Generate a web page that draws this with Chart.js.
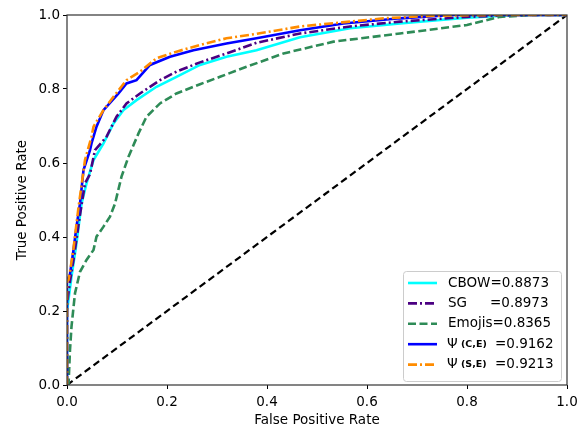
<!DOCTYPE html>
<html><head><meta charset="utf-8">
<script src="https://cdn.jsdelivr.net/npm/chart.js@4/dist/chart.umd.min.js"></script>
<style>html,body{margin:0;padding:0;background:#fff}</style>
</head><body>
<canvas id="c" width="587" height="429"></canvas>
<script>
// ---- data ----
const xTicks = [0, 0.2, 0.4, 0.6, 0.8, 1.0];
const yTicks = [0, 0.2, 0.4, 0.6, 0.8, 1.0];
const seriesNames = ['CBOW', 'SG', 'Emojis', 'Ψ', 'Ψ'];
const seriesSubs = ['', '', '', '(C,E)', '(S,E)'];
const seriesAUC = ['0.8873', '0.8973', '0.8365', '0.9162', '0.9213'];

const cbowFpr = [0, 0, 0.009, 0.019, 0.029, 0.039, 0.053, 0.073, 0.093, 0.113, 0.139, 0.179, 0.219, 0.266, 0.319, 0.379, 0.466, 0.566, 0.666, 0.8, 0.9, 1];
const cbowTpr = [0, 0.2, 0.293, 0.383, 0.49, 0.545, 0.608, 0.653, 0.707, 0.743, 0.77, 0.806, 0.833, 0.865, 0.887, 0.905, 0.94, 0.964, 0.977, 0.993, 1, 1];

const sgFpr = [0, 0, 0.006, 0.013, 0.026, 0.036, 0.046, 0.056, 0.079, 0.099, 0.119, 0.146, 0.186, 0.219, 0.266, 0.319, 0.379, 0.466, 0.566, 0.666, 0.8, 0.9, 1];
const sgTpr = [0, 0.22, 0.28, 0.338, 0.46, 0.545, 0.57, 0.635, 0.671, 0.725, 0.761, 0.788, 0.824, 0.847, 0.872, 0.896, 0.925, 0.95, 0.969, 0.982, 0.995, 1, 1];

const emoFpr = [0, 0.003, 0.006, 0.009, 0.016, 0.026, 0.039, 0.053, 0.059, 0.073, 0.086, 0.096, 0.109, 0.123, 0.143, 0.159, 0.186, 0.219, 0.266, 0.306, 0.359, 0.433, 0.533, 0.666, 0.8, 0.866, 0.93, 1];
const emoTpr = [0, 0, 0.095, 0.158, 0.248, 0.306, 0.338, 0.365, 0.401, 0.428, 0.455, 0.49, 0.563, 0.617, 0.68, 0.725, 0.761, 0.788, 0.813, 0.833, 0.86, 0.896, 0.928, 0.95, 0.973, 0.995, 1, 1];

const ceFpr = [0, 0, 0.006, 0.013, 0.019, 0.026, 0.033, 0.046, 0.049, 0.059, 0.073, 0.103, 0.119, 0.139, 0.166, 0.206, 0.253, 0.319, 0.379, 0.466, 0.553, 0.666, 0.77, 1];
const ceTpr = [0, 0.28, 0.30, 0.365, 0.428, 0.49, 0.581, 0.635, 0.653, 0.698, 0.743, 0.788, 0.815, 0.824, 0.865, 0.887, 0.905, 0.923, 0.937, 0.959, 0.977, 0.991, 1, 1];

const seFpr = [0, 0, 0.003, 0.006, 0.013, 0.023, 0.036, 0.049, 0.053, 0.073, 0.093, 0.119, 0.146, 0.179, 0.219, 0.266, 0.319, 0.379, 0.466, 0.55, 0.633, 0.733, 0.85, 1];
const seTpr = [0, 0.28, 0.284, 0.306, 0.369, 0.48, 0.608, 0.671, 0.698, 0.743, 0.779, 0.824, 0.847, 0.883, 0.901, 0.919, 0.937, 0.949, 0.969, 0.98, 0.991, 0.998, 1, 1];

const chanceFpr = [0, 1];
const chanceTpr = [0, 1];

// ---- styles ----
const FONT = 'DejaVu Sans';
const pts = (xs, ys) => xs.map((x, i) => ({x: x, y: ys[i]}));
const styles = [
  {color: '#00ffff', dash: [], order: 4},
  {color: '#4b0082', dash: [9, 3, 2, 3], order: 3},
  {color: '#2e8b57', dash: [8, 3.5], order: 2},
  {color: '#0000ff', dash: [], order: 1},
  {color: '#ff8c00', dash: [9, 3, 2, 3], order: 0}
];
const curves = [[cbowFpr, cbowTpr], [sgFpr, sgTpr], [emoFpr, emoTpr], [ceFpr, ceTpr], [seFpr, seTpr]];

const datasets = curves.map((c, i) => ({
  label: seriesNames[i] + seriesSubs[i],
  data: pts(c[0], c[1]),
  showLine: true,
  borderColor: styles[i].color,
  backgroundColor: styles[i].color,
  borderWidth: 2.6,
  borderDash: styles[i].dash,
  pointRadius: 0,
  tension: 0,
  order: styles[i].order
}));
datasets.push({
  label: 'chance',
  data: pts(chanceFpr, chanceTpr),
  showLine: true,
  borderColor: '#000',
  borderWidth: 2.2,
  borderDash: [7, 4],
  pointRadius: 0,
  order: 5
});

const boxPlugin = {
  id: 'boxAndLegend',
  afterDraw(chart) {
    const ctx = chart.ctx, a = chart.chartArea;
    ctx.save();
    ctx.strokeStyle = '#333';
    ctx.lineWidth = 1.2;
    ctx.strokeRect(a.left, a.top, a.right - a.left, a.bottom - a.top);

    // legend
    const w = 158, h = 110;
    const lx = a.right - 6 - w, ly = a.bottom - 4 - h;
    ctx.fillStyle = 'rgba(255,255,255,0.85)';
    ctx.strokeStyle = '#cccccc';
    ctx.lineWidth = 1;
    ctx.beginPath();
    ctx.roundRect(lx + 0.5, ly + 0.5, w, h, 3);
    ctx.fill();
    ctx.stroke();
    const rowH = 20.4;
    for (let i = 0; i < 5; i++) {
      const cy = ly + 12 + i * rowH;
      ctx.strokeStyle = styles[i].color;
      ctx.lineWidth = 2.6;
      ctx.setLineDash(styles[i].dash);
      ctx.beginPath();
      ctx.moveTo(lx + 5, cy);
      ctx.lineTo(lx + 34, cy);
      ctx.stroke();
      ctx.setLineDash([]);
      ctx.fillStyle = '#000';
      ctx.textBaseline = 'middle';
      ctx.textAlign = 'left';
      const tx = lx + 45;
      ctx.font = '13.5px "' + FONT + '"';
      if (seriesSubs[i]) {
        ctx.fillText(seriesNames[i], tx - 1, cy);
        ctx.font = 'bold 9.5px "' + FONT + '"';
        ctx.fillText(seriesSubs[i], tx + 13, cy);
        ctx.font = '13.5px "' + FONT + '"';
        ctx.fillText('=' + seriesAUC[i], lx + 92, cy);
      } else if (i === 1) {
        ctx.fillText(seriesNames[i], tx, cy);
        ctx.fillText('=' + seriesAUC[i], lx + 87, cy);
      } else {
        ctx.fillText(seriesNames[i] + '=' + seriesAUC[i], tx, cy);
      }
    }
    ctx.restore();
  }
};

const tickFont = {family: FONT, size: 13.5};
new Chart(document.getElementById('c'), {
  type: 'scatter',
  data: {datasets: datasets},
  options: {
    responsive: false,
    animation: false,
    layout: {padding: {left: 0, right: 20, top: 15, bottom: 0}},
    plugins: {legend: {display: false}, tooltip: {enabled: false}},
    scales: {
      x: {
        type: 'linear', min: 0, max: 1,
        afterBuildTicks: s => { s.ticks = xTicks.map(v => ({value: v})); },
        afterFit: s => { s.height = 44; },
        ticks: {color: '#000', font: tickFont, padding: 5, maxRotation: 0, callback: v => Number(v).toFixed(1)},
        grid: {drawOnChartArea: false, drawTicks: true, tickLength: 4, color: '#000', tickWidth: 1},
        border: {display: false},
        title: {display: true, text: 'False Positive Rate', color: '#000', font: tickFont, padding: {top: 4, bottom: 0}}
      },
      y: {
        type: 'linear', min: 0, max: 1,
        afterBuildTicks: s => { s.ticks = yTicks.map(v => ({value: v})); },
        afterFit: s => { s.width = 67; },
        ticks: {color: '#000', font: tickFont, padding: 3, callback: v => Number(v).toFixed(1)},
        grid: {drawOnChartArea: false, drawTicks: true, tickLength: 4, color: '#000', tickWidth: 1},
        border: {display: false},
        title: {display: true, text: 'True Positive Rate', color: '#000', font: tickFont, padding: {top: 14, bottom: 0}}
      }
    }
  },
  plugins: [boxPlugin]
});
</script>
</body></html>
